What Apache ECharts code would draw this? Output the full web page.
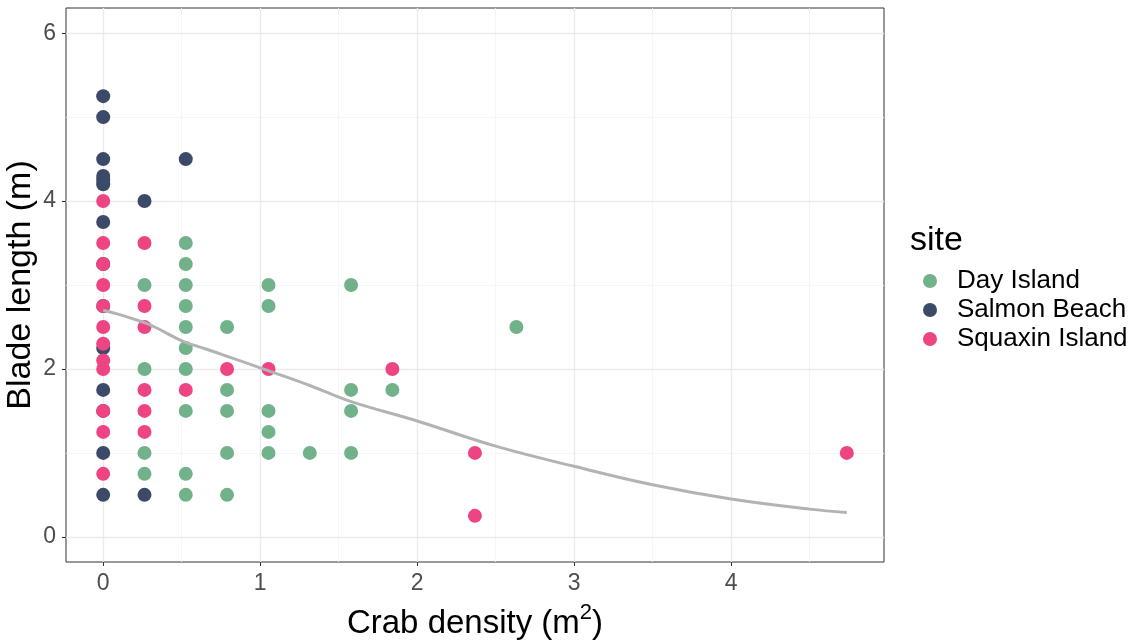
<!DOCTYPE html>
<html>
<head>
<meta charset="utf-8">
<script src="https://cdn.jsdelivr.net/npm/echarts@6/dist/echarts.min.js"></script>
<style>
html,body{margin:0;padding:0;background:#fff;}
#chart{width:1136px;height:643px;}
</style>
</head>
<body>
<div id="chart"></div>
<script>
// ---- data ----
const siteNames = ['Day Island', 'Salmon Beach', 'Squaxin Island'];
const siteColors = ['#72B28A', '#3B4A68', '#EE4484'];

const dayIsland = [
  [0.263, 3.0], [0.263, 2.0], [0.263, 1.0], [0.263, 0.75],
  [0.526, 3.5], [0.526, 3.25], [0.526, 3.0], [0.526, 2.75], [0.526, 2.5], [0.526, 2.25], [0.526, 2.0], [0.526, 1.5], [0.526, 0.75], [0.526, 0.5],
  [0.789, 2.5], [0.789, 1.75], [0.789, 1.5], [0.789, 1.0], [0.789, 0.5],
  [1.053, 3.0], [1.053, 2.75], [1.053, 1.5], [1.053, 1.25], [1.053, 1.0],
  [1.316, 1.0],
  [1.579, 3.0], [1.579, 1.75], [1.579, 1.5], [1.579, 1.0],
  [1.842, 1.75],
  [2.632, 2.5]
];
const salmonBeach = [
  [0, 5.25], [0, 5.0], [0, 4.5], [0, 4.3], [0, 4.25], [0, 4.2], [0, 3.75], [0, 3.25], [0, 2.75], [0, 2.25], [0, 1.75], [0, 1.5], [0, 1.0], [0, 0.5],
  [0.263, 4.0], [0.263, 0.5],
  [0.526, 4.5]
];
const squaxinIsland = [
  [0, 4.0], [0, 3.5], [0, 3.25], [0, 3.0], [0, 2.75], [0, 2.5], [0, 2.3], [0, 2.1], [0, 2.0], [0, 1.5], [0, 1.25], [0, 0.75],
  [0.263, 3.5], [0.263, 2.75], [0.263, 2.5], [0.263, 1.75], [0.263, 1.5], [0.263, 1.25],
  [0.526, 1.75],
  [0.789, 2.0],
  [1.053, 2.0],
  [1.842, 2.0],
  [2.368, 1.0], [2.368, 0.25],
  [4.737, 1.0]
];

// smooth fit line
const fitX = [0, 0.1, 0.2, 0.28, 0.36, 0.44, 0.52, 0.65, 0.79, 1.05, 1.32, 1.58, 2.0, 2.5, 3.0, 3.5, 4.0, 4.5, 4.737];
const fitY = [2.70, 2.65, 2.59, 2.54, 2.47, 2.39, 2.32, 2.24, 2.15, 1.98, 1.80, 1.61, 1.38, 1.08, 0.84, 0.62, 0.45, 0.33, 0.29];

const xTicks = [0, 1, 2, 3, 4];
const yTicks = [0, 2, 4, 6];
const xMinor = [0.5, 1.5, 2.5, 3.5, 4.5];
const yMinor = [1, 3, 5];

const xLimits = [-0.237, 4.974];
const yLimits = [-0.3, 6.3];

// ---- chart ----
const chart = echarts.init(document.getElementById('chart'), null, {renderer: 'canvas'});

const labelColor = '#4D4D4D';
const font = 'Liberation Sans, Arial, Helvetica, sans-serif';

const minorLines = [];
xMinor.forEach(v => minorLines.push({xAxis: v}));
yMinor.forEach(v => minorLines.push({yAxis: v}));
const majorLines = [];
xTicks.forEach(v => majorLines.push({xAxis: v}));
yTicks.forEach(v => majorLines.push({yAxis: v}));

const scatterSeries = [dayIsland, salmonBeach, squaxinIsland].map((d, i) => ({
  name: siteNames[i],
  type: 'scatter',
  data: d,
  symbol: 'circle',
  symbolSize: 14,
  itemStyle: {color: siteColors[i], opacity: 1},
  z: 3,
  emphasis: {disabled: true}
}));

const option = {
  animation: false,
  backgroundColor: '#ffffff',
  textStyle: {fontFamily: font},
  grid: {
    left: 66, right: 252, top: 8, bottom: 81,
    outerBoundsMode: 'none', containLabel: false,
    show: true, borderColor: '#333333', borderWidth: 1, backgroundColor: 'transparent'
  },
  title: {
    text: 'site', left: 905, top: 219,
    textStyle: {fontSize: 34, fontWeight: 'normal', color: '#000', fontFamily: font}
  },
  legend: {
    left: 918, top: 263, orient: 'vertical',
    itemWidth: 14, itemHeight: 14, itemGap: 3,
    icon: 'circle',
    data: siteNames,
    textStyle: {fontSize: 26, lineHeight: 26, color: '#000', fontFamily: font, padding: [0, 0, 0, 15]},
    selectedMode: false
  },
  xAxis: {
    type: 'value', min: xLimits[0], max: xLimits[1],
    name: '{a|Crab density (m}{s|2}{a|)}',
    nameLocation: 'middle', nameGap: 40, nameMoveOverlap: false,
    nameTextStyle: {
      rich: {
        a: {fontSize: 33, color: '#000', fontFamily: font, verticalAlign: 'bottom', lineHeight: 38},
        s: {fontSize: 22, color: '#000', fontFamily: font, verticalAlign: 'top', lineHeight: 38, padding: [0, 0, 20, 0]}
      }
    },
    axisLine: {show: false, onZero: false},
    axisTick: {show: true, length: 4, customValues: xTicks, lineStyle: {color: '#333333', width: 1}},
    axisLabel: {customValues: xTicks, fontSize: 23, color: labelColor, margin: 10, fontFamily: font},
    splitLine: {show: false}
  },
  yAxis: {
    type: 'value', min: yLimits[0], max: yLimits[1],
    name: 'Blade length (m)',
    nameLocation: 'middle', nameGap: 28, nameRotate: 90, nameMoveOverlap: false,
    nameTextStyle: {fontSize: 34, color: '#000', fontFamily: font},
    axisLine: {show: false, onZero: false},
    axisTick: {show: true, length: 4, customValues: yTicks, lineStyle: {color: '#333333', width: 1}},
    axisLabel: {customValues: yTicks, fontSize: 23, color: labelColor, margin: 10, fontFamily: font},
    splitLine: {show: false}
  },
  series: [
    {
      type: 'line', data: [], silent: true, z: 0,
      markLine: {
        silent: true, symbol: ['none', 'none'], label: {show: false}, z: 0,
        lineStyle: {color: '#F2F2F2', width: 0.8, type: 'solid'},
        data: minorLines, animation: false
      }
    },
    {
      type: 'line', data: [], silent: true, z: 0,
      markLine: {
        silent: true, symbol: ['none', 'none'], label: {show: false}, z: 0,
        lineStyle: {color: '#EBEBEB', width: 1.4, type: 'solid'},
        data: majorLines, animation: false
      }
    },
    ...scatterSeries,
    {
      name: 'fit', type: 'line',
      data: fitX.map((x, i) => [x, fitY[i]]),
      smooth: 0.4, showSymbol: false, symbol: 'none',
      lineStyle: {color: '#B3B3B3', width: 3},
      z: 5, silent: true
    }
  ]
};
chart.setOption(option);
</script>
</body>
</html>
